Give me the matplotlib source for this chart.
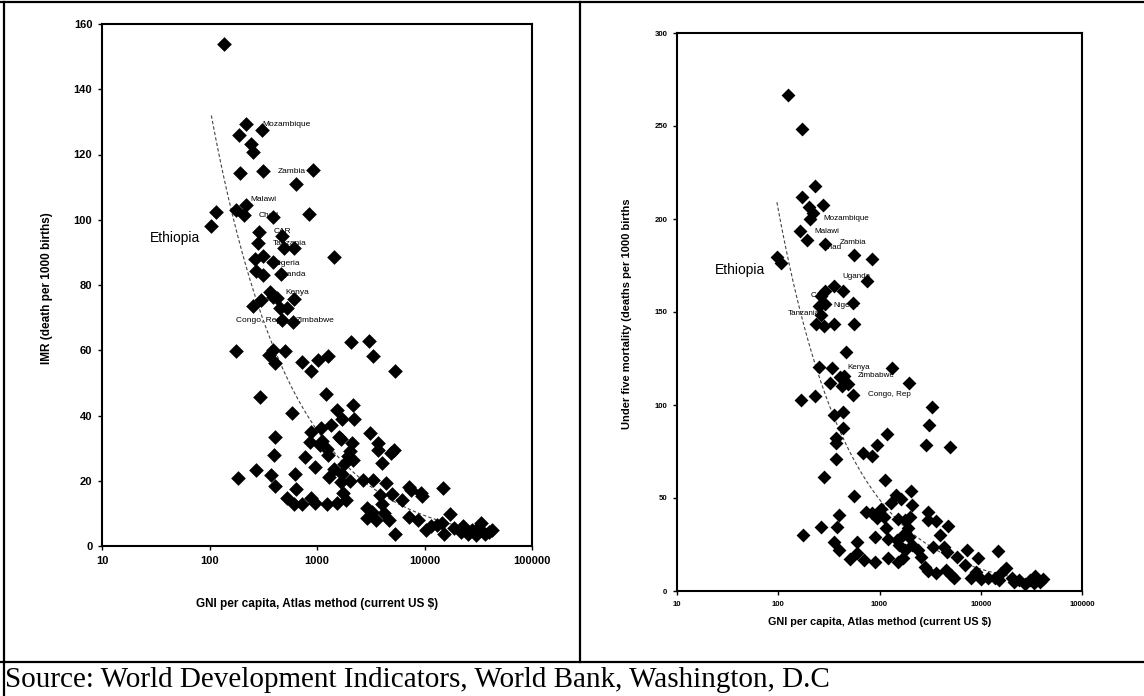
import numpy as np
import matplotlib.pyplot as plt
from matplotlib.lines import Line2D
from matplotlib.ticker import FixedLocator, FixedFormatter, NullLocator

# linker grafiek: zuigelingensterfte tegen BNI per hoofd (log-as)
gni_left = [137, 220, 305, 188, 242, 254, 191, 314, 916, 631, 217, 176, 115, 104, 208, 393, 834,
            290, 474, 284, 490, 607, 1439, 264, 314, 389, 268, 314, 460, 362, 302, 393, 425, 607,
            252, 456, 531, 474, 593, 176, 389, 360, 509, 405, 722, 1016, 1259, 887, 2075, 3055,
            3337, 5283, 297, 1210, 588, 1535, 2158, 1702, 2193, 1361, 1081,
            881, 859, 1117, 1074, 1239, 1260, 769, 968, 1596, 1688, 2109, 2025, 1945, 2158, 1799,
            1452, 1280, 1702, 1660, 2025, 1754, 1870, 1535, 1239, 405, 399, 627, 641, 272, 185,
            371, 405, 531, 607, 722, 881, 968, 2672, 3311, 3133, 3673, 3673, 4067, 4842, 5237,
            4404, 5037, 3817, 6136, 2891, 2891, 3521, 4067, 4227, 4652, 5369, 7194, 7479, 9350,
            9500, 7194, 14928, 8770, 10280, 11580, 13040, 17210, 15280, 18620, 22700, 25180,
            27680, 29990, 33750, 36550, 42850, 21830, 31190, 39560, 14690, 3260]
imr_left = [154, 129.2, 127.6, 125.9, 123.1, 120.7, 114.3, 114.9, 115.4, 111, 104.6, 103.1, 102.5,
            98.2, 101.4, 100.7, 101.8, 96.3, 95.1, 92.8, 91.3, 91.2, 88.7, 88.1, 88.9, 87.2, 84.4,
            83.1, 83.4, 77.8, 75.4, 76.3, 76.1, 75.8, 73.7, 73.0, 73.0, 69.2, 68.6, 59.9, 60.2,
            58.4, 59.9, 56.1, 56.3, 57.1, 58.2, 53.6, 62.6, 62.8, 58.2, 53.7, 45.6, 46.6, 40.9,
            41.7, 43.1, 38.9, 38.9, 37.1, 36.1,
            34.8, 32, 32.2, 31, 29.7, 27.8, 27.4, 24.2, 33.3, 32.8, 31.7, 29.1, 27.6, 26.3, 25.2,
            23.5, 21.1, 22.1, 19.6, 19.8, 16.2, 14, 13.3, 12.8, 33.3, 27.8, 22.2, 17.5, 23.3, 20.8,
            21.7, 18.5, 14.6, 12.9, 12.9, 14.7, 13.1, 20.1, 20.1, 34.6, 31.7, 29.4, 25.5, 28.6,
            29.4, 19.3, 16, 15.7, 14, 11.6, 8.7, 8, 12.8, 10, 8, 3.8, 18.1, 17.3, 16.2, 15.4, 8.8,
            17.9, 8, 4.9, 6, 6.3, 9.7, 3.8, 5.4, 6, 3.8, 4.9, 3.3, 7.1, 3.8, 4.9, 4.3, 5.4, 4.3,
            7, 10.5]

# rechter grafiek: kindersterfte onder vijf jaar
gni_right = [124, 172, 229, 172, 277, 201, 219, 207, 163, 193, 287, 565, 838, 97, 107, 356, 440,
             759, 287, 266, 253, 289, 551, 264, 238, 282, 356, 561, 466, 253, 339, 1342, 404, 447,
             327, 429, 494, 1941, 551, 166, 232, 3266, 356, 436, 440, 3077, 368, 371, 1183, 950,
             2905, 5000, 680, 838, 371, 282, 1135,
             556, 1445, 1614, 2024, 1297, 2111, 739, 838, 1036, 395, 950, 1106, 3027, 3000, 3636,
             4764, 1535, 1783, 1990, 1893, 1710, 1941, 1172, 912, 1202, 1483, 1574, 1783, 2075,
             2393, 2559, 1710, 1511, 1202, 3954, 3348, 4305, 4681, 5873, 7303, 6947, 9393, 14760,
             2831, 3027, 3636, 4489, 5093, 5445, 8995, 9950, 11780, 13930, 15800, 17920, 15150,
             20320, 24040, 27250, 30880, 34450, 38100, 41430, 33570, 21190, 8070,
             175, 266, 353, 384, 395, 515, 604, 697, 604, 912]
u5_right = [266.6, 248.2, 217.5, 211.6, 207.7, 206.3, 203, 200, 193.4, 188.8, 186.6, 180.9, 178.7,
            179.6, 176.4, 164.2, 161.5, 166.9, 161.1, 158.7, 153.3, 154.2, 154.7, 148.2, 143.8,
            142.4, 143.6, 143.6, 128.7, 120.5, 119.9, 119.9, 115.1, 115.6, 112, 110.2, 111.1, 112,
            105.6, 102.7, 104.7, 98.7, 94.5, 96, 87.5, 89.1, 82.4, 79.6, 84.2, 78.7, 78.7, 77.3,
            74.2, 72.4, 70.9, 61.5, 59.6,
            50.9, 51.8, 49.5, 53.6, 47.3, 46.4, 42.3, 41.9, 44.2, 40.6, 39.2, 39.7, 42.3, 38.3,
            37.4, 35.1, 38.8, 38.3, 39.6, 33.8, 30.2, 28.8, 33.8, 28.8, 27.9, 27.5, 24.8, 22.1,
            24.8, 22.1, 18.5, 17.6, 15.8, 18, 29.9, 23.9, 23.9, 21.2, 18.5, 22.1, 14, 18, 21.6,
            13.1, 10.8, 9.5, 11.3, 8.6, 6.8, 10.4, 6.3, 7.2, 7.2, 9.5, 12.6, 5.9, 6.8, 5.9, 3.6,
            5.9, 8.3, 5, 6.3, 4.1, 5, 6.8,
            30.2, 34.4, 26.6, 34.2, 22.1, 17.1, 20.3, 16.7, 26.6, 15.8]

# landnamen (x, y van de linkerkant van de tekst)
names_left = ["Mozambique", "Zambia", "Malawi", "Chad", "CAR", "Tanzania", "Nigeria", "Uganda",
              "Kenya", "Congo, Rep", "Zimbabwe"]
name_x_left = [309, 431, 242, 286, 399, 389, 389, 415, 506, 176, 641]
name_y_left = [129.2, 114.9, 106.2, 101.4, 96.3, 92.8, 86.6, 83.1, 77.7, 69, 69]

names_right = ["Mozambique", "Malawi", "Zambia", "Chad", "Uganda", "CAR", "Nigeria", "Tanzania",
               "Kenya", "Zimbabwe", "Congo, Rep"]
name_x_right = [282, 229, 404, 277, 428, 210, 348, 125, 478, 615, 771]
name_y_right = [200, 193.4, 187.3, 184.7, 169, 159, 153.3, 149, 120, 115.6, 105.6]

ethiopia_left = (28, 94.3)
ethiopia_right = (23.7, 172.4)

trend_left = (100, 135, -0.58)
trend_right = (97, 209, -0.62)

xticks = [10, 100, 1000, 10000, 100000]
xticklabels = ["10", "100", "1000", "10000", "100000"]

plt.rcParams['font.family'] = ['Liberation Sans', 'DejaVu Sans']

fig = plt.figure(figsize=(11.44, 6.96), dpi=100)
W, H = 1144, 696


def box(x0, y0, x1, y1):
    # pixels (links-boven oorsprong) -> figuurfractie
    return [x0 / W, 1 - y1 / H, (x1 - x0) / W, (y1 - y0) / H]


def opmaak(ax, ymax, ystep, tsize):
    ax.set_xscale('log')
    ax.set_xlim(10, 100000)
    ax.set_ylim(0, ymax)
    ax.xaxis.set_major_locator(FixedLocator(xticks))
    ax.xaxis.set_major_formatter(FixedFormatter(xticklabels))
    ax.xaxis.set_minor_locator(NullLocator())
    ax.set_yticks(np.arange(0, ymax + 1, ystep))
    for s in ax.spines.values():
        s.set_linewidth(1.5)
        s.set_color('black')
    ax.tick_params(direction='out', length=3, width=1, labelsize=tsize, pad=4)
    for lab in ax.get_xticklabels() + ax.get_yticklabels():
        lab.set_fontweight('bold')


def trend(ax, xs, params):
    x0, y0, b = params
    xx = np.logspace(np.log10(min(xs)), np.log10(max(xs)), 200)
    ax.plot(xx, y0 * (xx / x0) ** b, color='#444444', lw=0.8, ls=(0, (3, 2)), zorder=1)


# linker paneel
ax1 = fig.add_axes(box(102, 24, 532, 546))
opmaak(ax1, 160, 20, 8)
trend(ax1, gni_left, trend_left)
ax1.scatter(gni_left, imr_left, marker='D', s=56, color='black', zorder=3, linewidths=0)
for n, x, y in zip(names_left, name_x_left, name_y_left):
    ax1.text(x, y, n, fontsize=6, va='center', ha='left', zorder=2)
ax1.text(*ethiopia_left, "Ethiopia", fontsize=10, va='center', ha='left')

# rechter paneel
ax2 = fig.add_axes(box(677, 33, 1082, 591))
opmaak(ax2, 300, 50, 5.6)
trend(ax2, gni_right, trend_right)
ax2.scatter(gni_right, u5_right, marker='D', s=50, color='black', zorder=3, linewidths=0)
for n, x, y in zip(names_right, name_x_right, name_y_right):
    ax2.text(x, y, n, fontsize=5.8, va='center', ha='left', zorder=2)
ax2.text(*ethiopia_right, "Ethiopia", fontsize=10, va='center', ha='left')

# as-titels
fig.text(47 / W, 1 - 288 / H, "IMR (death per 1000 births)", rotation=90, fontsize=8.5,
         fontweight='bold', ha='center', va='center')
fig.text(317 / W, 1 - 604 / H, "GNI per capita, Atlas method (current US $)", fontsize=8.5,
         fontweight='bold', ha='center', va='center')
fig.text(627 / W, 1 - 314 / H, "Under five mortality (deaths per 1000 births", rotation=90,
         fontsize=8, fontweight='bold', ha='center', va='center')
fig.text(880 / W, 1 - 622 / H, "GNI per capita, Atlas method (current US $)", fontsize=7.8,
         fontweight='bold', ha='center', va='center')

# tabelrand
lijnen = [((4, 4), (2, 696)), ((580, 580), (2, 662)), ((0, 1144), (2, 2)), ((0, 1144), (662, 662))]
for xs, ys in lijnen:
    fig.add_artist(Line2D([x / W for x in xs], [1 - y / H for y in ys], color='black', lw=1.6,
                          transform=fig.transFigure))

fig.text(5 / W, 1 - 680 / H, "Source: World Development Indicators, World Bank, Washington, D.C",
         fontsize=21, family='Liberation Serif', ha='left', va='center')

fig.savefig('out.png', dpi=100)
